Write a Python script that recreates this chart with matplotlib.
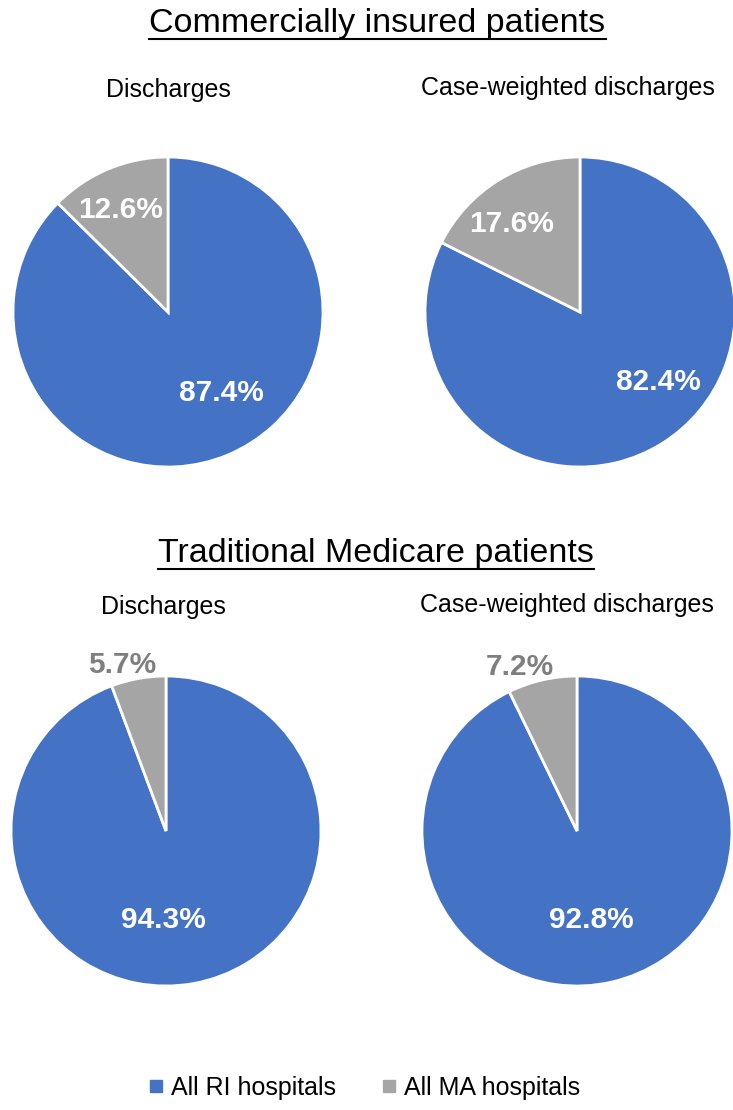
import matplotlib
matplotlib.use("Agg")
import matplotlib.pyplot as plt
from matplotlib.lines import Line2D

# ---- data ----
groups = ["Commercially insured patients", "Traditional Medicare patients"]
panels = ["Discharges", "Case-weighted discharges"]
series = ["All RI hospitals", "All MA hospitals"]
ri_share = [[87.4, 82.4], [94.3, 92.8]]
ma_share = [[12.6, 17.6], [5.7, 7.2]]

BLUE = "#4472C4"
GRAY = "#A5A5A5"
GRAYTXT = "#7F7F7F"
REG = "Liberation Sans"

W, H = 733, 1110
fig = plt.figure(figsize=(W / 100, H / 100), dpi=100)

# pixel layout (centers, radius)
centers = [[(168, 312), (580, 312)], [(166, 831), (577, 831)]]
R = 155
sub_pos = [[(168, 90), (568, 88)], [(163, 607), (567, 605)]]
title_pos = [(377.5, 32), (376, 562)]  # baseline
# label offsets in radius units (x centre, baseline): (big, small)
lab_off = [[((0.345, -0.574), (-0.306, 0.606)), ((0.503, -0.503), (-0.439, 0.516))],
           [((-0.019, -0.626), (-0.284, 1.019)), ((0.09, -0.626), (-0.368, 1.006))]]

def fx(x):
    return x / W

def fy(y):
    return 1 - y / H

for gi in range(2):
    for pi in range(2):
        cx, cy = centers[gi][pi]
        ax = fig.add_axes([fx(cx - R), fy(cy + R), 2 * R / W, 2 * R / H])
        ax.pie([ri_share[gi][pi], ma_share[gi][pi]], colors=[BLUE, GRAY],
               startangle=90, counterclock=False, radius=1,
               wedgeprops=dict(edgecolor="white", linewidth=2))
        ax.set_xlim(-1, 1)
        ax.set_ylim(-1, 1)
        ax.set_aspect("auto")
        ax.axis("off")
        (bx, by), (sx, sy) = lab_off[gi][pi]
        ax.text(bx, by, f"{ri_share[gi][pi]:.1f}%", color="white", fontsize=21.5,
                fontweight="bold", family=REG, ha="center", va="baseline")
        small_col = "white" if gi == 0 else GRAYTXT
        ax.text(sx, sy, f"{ma_share[gi][pi]:.1f}%", color=small_col, fontsize=21.5,
                fontweight="bold", family=REG, ha="center", va="baseline", clip_on=False)
        x, y = sub_pos[gi][pi]
        fig.text(fx(x), fy(y), panels[pi], fontsize=18, family=REG,
                 ha="center", va="center")

renderer = fig.canvas.get_renderer()
for gi in range(2):
    x, y = title_pos[gi]
    t = fig.text(fx(x), fy(y), groups[gi], fontsize=24.5, family=REG,
                 ha="center", va="baseline")
    bb = t.get_window_extent(renderer)
    uy = fy(y + 7)
    fig.add_artist(Line2D([bb.x0 / W, bb.x1 / W], [uy, uy],
                          transform=fig.transFigure, color="black", linewidth=1.5))

handles = [plt.Line2D([], [], marker="s", linestyle="", markersize=9,
                      markerfacecolor=c, markeredgecolor=c) for c in [BLUE, GRAY]]
fig.legend(handles, series, loc="center", bbox_to_anchor=(fx(362), fy(1088)),
           ncol=2, frameon=False, prop=dict(family=REG, size=18),
           handletextpad=0.1, columnspacing=1.6, handlelength=1.0)

fig.savefig("out.png", dpi=100)
